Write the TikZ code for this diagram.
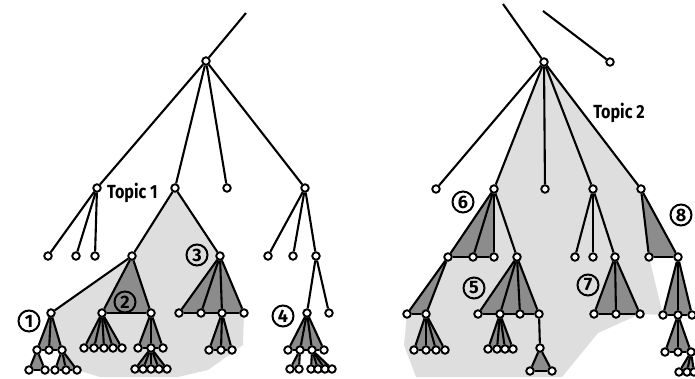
\documentclass[tikz,border=0pt]{standalone}
\usepackage{fontspec}
\usepackage{graphicx}
\setsansfont{Fira Sans}
\usetikzlibrary{backgrounds}
\tikzset{
  v/.style={circle, draw, fill=white, line width=1.9pt, inner sep=0pt, minimum size=7.5pt},
  e/.style={line width=2.1pt},
  dk/.style={fill=black!45},
  lt/.style={fill=black!13},
  lab/.style={circle, draw, line width=2pt, inner sep=0pt, minimum size=21pt, font=\sffamily\bfseries\fontsize{18}{18}\selectfont},
  topic/.style={font=\sffamily\bfseries\fontsize{19}{19}\selectfont, inner sep=0pt}
}
\newcommand\fan[4]{%
  \fill[dk] (#1.center) -- (#2.center) -- (#3.center) -- cycle;
  \draw[e] (#2) -- (#3);
  \foreach \c in {#4} {\draw[e] (#1) -- (\c);}%
}
\newcommand\kids[2]{\foreach \c in {#2} {\draw[e] (#1) -- (\c);}}
\begin{document}
\begin{tikzpicture}[x=1pt,y=-1pt]
\useasboundingbox (0,0) rectangle (695,379);
% ---------------- left tree nodes
\coordinate (l0) at (246,13);
\node[v] (L) at (206,61) {};
\node[v] (A) at (97,188) {};
\node[v] (A1) at (48,256) {};
\node[v] (A2) at (76,256) {};
\node[v] (A3) at (95,256) {};
\node[v] (B) at (175,188) {};
\node[v] (C) at (227,188) {};
\node[v] (D) at (305,188) {};
\node[v] (B1) at (132,256) {};
\node[v] (B2) at (220,256) {};
\node[v] (P) at (51,313) {};
\node[v] (Q) at (102,313) {};
\node[v] (R) at (151,313) {};
\node[v] (P1) at (37,350) {};
\node[v] (P2) at (49,350) {};
\node[v] (P3) at (62,350) {};
\node[v] (P11) at (29,370) {};
\node[v] (P12) at (45,370) {};
\node[v] (P31) at (55,370) {};
\node[v] (P32) at (66,370) {};
\node[v] (P33) at (77,370) {};
\node[v] (Q1) at (84,348) {};
\node[v] (Q2) at (94,348) {};
\node[v] (Q3) at (104,348) {};
\node[v] (Q4) at (113,348) {};
\node[v] (Q5) at (122,348) {};
\node[v] (R1) at (138,348) {};
\node[v] (R2) at (151,348) {};
\node[v] (R3) at (163,348) {};
\node[v] (R21) at (135,369) {};
\node[v] (R22) at (143,369) {};
\node[v] (R23) at (151,369) {};
\node[v] (R24) at (159,369) {};
\node[v] (R25) at (167,369) {};
\node[v] (S1) at (179,313) {};
\node[v] (S2) at (201,313) {};
\node[v] (S3) at (222,313) {};
\node[v] (S4) at (244,313) {};
\node[v] (S31) at (209,350) {};
\node[v] (S32) at (221,350) {};
\node[v] (S33) at (232,350) {};
\node[v] (D1) at (268,256) {};
\node[v] (D2) at (293,256) {};
\node[v] (D3) at (316,256) {};
\node[v] (T) at (307,313) {};
\node[v] (T2) at (329,313) {};
\node[v] (Ta) at (288,350) {};
\node[v] (Tb) at (300,350) {};
\node[v] (Tc) at (312,350) {};
\node[v] (Td) at (324,350) {};
\node[v] (Tb1) at (290,369) {};
\node[v] (Tb2) at (299,369) {};
\node[v] (Tc1) at (311,369) {};
\node[v] (Tc2) at (318,369) {};
\node[v] (Tc3) at (325,369) {};
\node[v] (Tc4) at (332,369) {};
% ---------------- right tree nodes
\coordinate (r0) at (503,4);
\coordinate (r1) at (543,11);
\node[v] (M) at (544,62) {};
\node[v] (ML) at (610,62) {};
\node[v] (E1) at (436,189) {};
\node[v] (E2) at (494,189) {};
\node[v] (E3) at (545,189) {};
\node[v] (E4) at (593,189) {};
\node[v] (E5) at (641,189) {};
\node[v] (F1) at (448,257) {};
\node[v] (F2) at (473,257) {};
\node[v] (F3) at (494,257) {};
\node[v] (F4) at (517,257) {};
\node[v] (G1) at (407,314) {};
\node[v] (G2) at (426,314) {};
\node[v] (G21) at (414,350) {};
\node[v] (G22) at (426,350) {};
\node[v] (G23) at (436,350) {};
\node[v] (G24) at (445,350) {};
\node[v] (H1) at (478,314) {};
\node[v] (H2) at (500,314) {};
\node[v] (H3) at (520,314) {};
\node[v] (H4) at (539,314) {};
\node[v] (H21) at (488,349) {};
\node[v] (H22) at (497,349) {};
\node[v] (H23) at (505,349) {};
\node[v] (H24) at (513,349) {};
\node[v] (H4a) at (540,348) {};
\node[v] (H4a1) at (530,371) {};
\node[v] (H4a2) at (552,371) {};
\node[v] (K1) at (575,257) {};
\node[v] (K2) at (593,257) {};
\node[v] (K3) at (615,257) {};
\node[v] (K31) at (594,314) {};
\node[v] (K32) at (616,314) {};
\node[v] (K33) at (640,314) {};
\node[v] (N1) at (649,257) {};
\node[v] (N2) at (678,257) {};
\node[v] (N21) at (663,315) {};
\node[v] (N22) at (678,315) {};
\node[v] (N23) at (692,315) {};
\node[v] (N221) at (665,352) {};
\node[v] (N222) at (678,352) {};
\node[v] (N223) at (691,352) {};
\node[v] (N2231) at (679,372) {};
\node[v] (N2232) at (687,372) {};
\node[v] (N2233) at (694,372) {};
% ---------------- labels
\node[lab] (n1) at (29,321) {1};
\node[lab] (n2) at (125,302) {2};
\node[lab] (n3) at (197,255) {3};
\node[lab] (n4) at (283,316) {4};
\node[lab] (n5) at (474,288) {5};
\node[lab] (n6) at (463,202) {6};
\node[lab] (n7) at (588,285) {7};
\node[lab] (n8) at (681,215) {8};
\node[topic, anchor=west] (t1) at (107,193) {\scalebox{0.85}[1]{Topic 1}};
\node[topic] (t2) at (619,113) {\scalebox{0.85}[1]{Topic 2}};
% ---------------- shading and edges
\begin{pgfonlayer}{background}
\fill[lt] (B.center) -- (B1.center) -- (P.center) -- (P3.center) -- (P33.center)
  -- (100,377) -- (178,377) -- (208,370) -- (243,345) -- (S4.center) -- (B2.center) -- cycle;
\fill[lt] (M.center) -- (E2.center) -- (F1.center) -- (G1.center) -- (404,345)
  -- (416,377) -- (562,377) -- (598,333) -- (K33.center) -- (N21.center)
  -- (N1.center) -- (E5.center) -- cycle;
% left tree
\draw[e] (l0) -- (L);
\kids{L}{A,B,C,D}
\kids{A}{A1,A2,A3}
\kids{B}{B1,B2}
\draw[e] (B1) -- (P);
\fan{B1}{Q}{R}{Q,R}
\fan{P}{P1}{P3}{P1,P2,P3}
\fan{P1}{P11}{P12}{P11,P12}
\fan{P3}{P31}{P33}{P31,P32,P33}
\fan{Q}{Q1}{Q5}{Q1,Q2,Q3,Q4,Q5}
\fan{R}{R1}{R3}{R1,R2,R3}
\fan{R2}{R21}{R25}{R21,R22,R23,R24,R25}
\fan{B2}{S1}{S4}{S1,S2,S3,S4}
\fan{S3}{S31}{S33}{S31,S32,S33}
\kids{D}{D1,D2,D3}
\kids{D3}{T,T2}
\fan{T}{Ta}{Td}{Ta,Tb,Tc,Td}
\fan{Tb}{Tb1}{Tb2}{Tb1,Tb2}
\fan{Tc}{Tc1}{Tc4}{Tc1,Tc2,Tc3,Tc4}
% right tree
\draw[e] (r0) -- (M);
\draw[e] (r1) -- (ML);
\kids{M}{E1,E2,E3,E4,E5}
\fan{E2}{F1}{F3}{F1,F2,F3}
\draw[e] (E2) -- (F4);
\fan{F1}{G1}{G2}{G1,G2}
\fan{G2}{G21}{G24}{G21,G22,G23,G24}
\fan{F4}{H1}{H4}{H1,H2,H3,H4}
\fan{H2}{H21}{H24}{H21,H22,H23,H24}
\draw[e] (H4) -- (H4a);
\fan{H4a}{H4a1}{H4a2}{H4a1,H4a2}
\kids{E4}{K1,K2,K3}
\fan{K3}{K31}{K33}{K31,K32,K33}
\fan{E5}{N1}{N2}{N1,N2}
\fan{N2}{N21}{N23}{N21,N22,N23}
\fan{N22}{N221}{N223}{N221,N222,N223}
\fan{N223}{N2231}{N2233}{N2231,N2232,N2233}
\end{pgfonlayer}
\end{tikzpicture}
\end{document}
